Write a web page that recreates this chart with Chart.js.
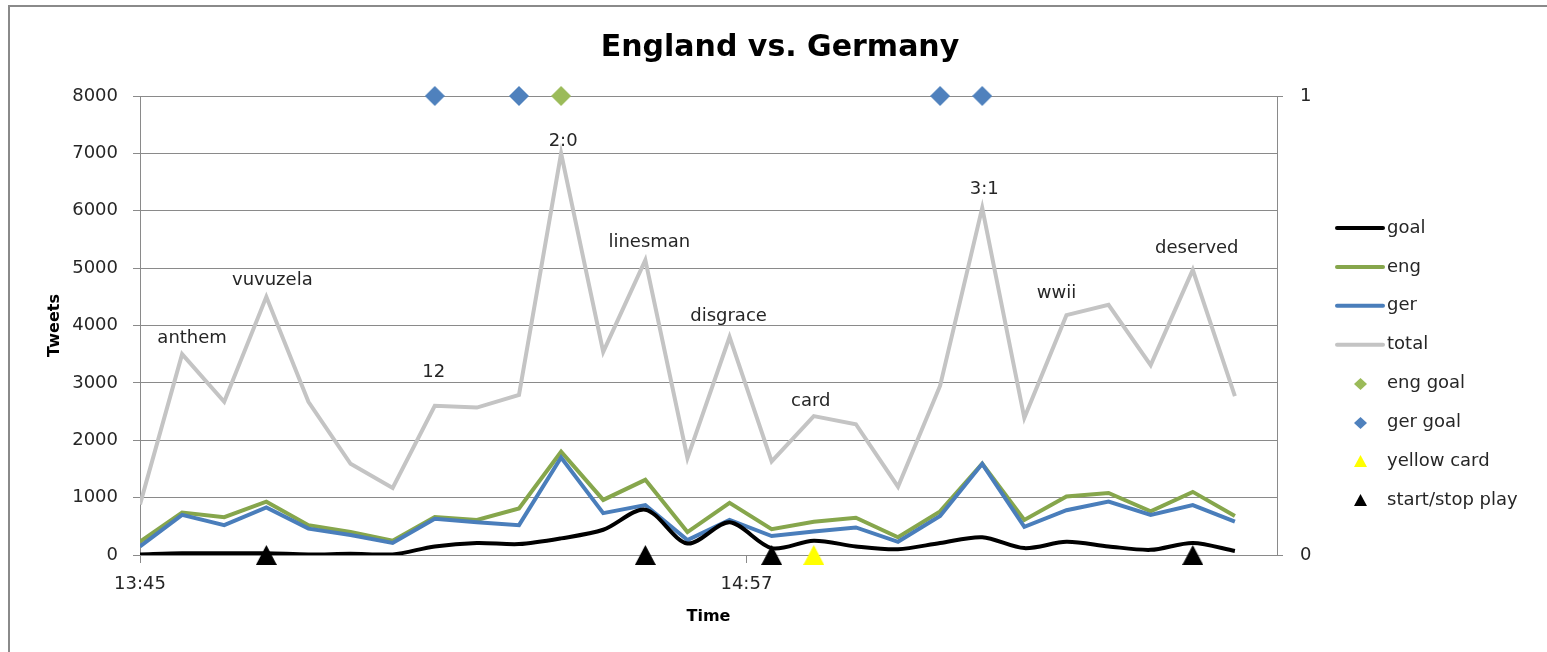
<!DOCTYPE html>
<html><head><meta charset="utf-8">
<script src="https://cdn.jsdelivr.net/npm/chart.js@4.4.1/dist/chart.umd.min.js"></script>
<style>html,body{margin:0;padding:0;background:#fff;overflow:hidden}canvas{display:block}</style>
</head><body>
<canvas id="c" width="1547" height="652"></canvas>
<script>
// ---- data ----
const times = ["13:45","13:50","13:55","14:00","14:05","14:10","14:15","14:20","14:25","14:30","14:35","14:40","14:45","14:50","14:55","15:00","15:05","15:10","15:15","15:20","15:25","15:30","15:35","15:40","15:45","15:50","15:55"];
const goal  = [10, 30, 30, 30, 10, 20, 10, 150, 210, 190, 290, 440, 790, 200, 570, 120, 250, 150, 100, 210, 310, 120, 230, 150, 90, 210, 70];
const eng   = [230, 740, 660, 930, 520, 400, 250, 660, 610, 810, 1800, 960, 1310, 400, 910, 450, 580, 650, 310, 760, 1590, 610, 1020, 1080, 760, 1100, 680];
const ger   = [150, 700, 520, 830, 460, 350, 210, 630, 570, 520, 1700, 730, 870, 260, 610, 330, 410, 480, 230, 680, 1590, 490, 780, 930, 700, 870, 580];
const total = [880, 3500, 2670, 4500, 2670, 1590, 1170, 2600, 2570, 2790, 7000, 3540, 5140, 1690, 3800, 1630, 2420, 2280, 1190, 2950, 6050, 2390, 4180, 4360, 3310, 4970, 2770];
const notes = ["", "anthem", "", "vuvuzela", "", "", "", "12", "", "", "2:0", "", "linesman", "", "disgrace", "", "card", "", "", "", "3:1", "", "wwii", "", "", "deserved", ""];
const engGoalTimes   = ["14:35"];
const gerGoalTimes   = ["14:20", "14:30", "15:20", "15:25"];
const yellowTimes    = ["15:05"];
const startStopTimes = ["14:00", "14:45", "15:00", "15:50"];
const xTickLabels = ["13:45", "14:57"];
const xEnd = "16:00";
const yTicksLeft = [0, 8000, 1000];   // min, max, step
const yTicksRight = [0, 1, 1];

// ---- helpers ----
const toMin = t => { const [h, m] = t.split(":").map(Number); return h * 60 + m; };
const t0 = toMin(times[0]);
const fmt = v => { const a = t0 + Math.round(v); return Math.floor(a / 60) + ":" + String(a % 60).padStart(2, "0"); };
const series = arr => arr.map((v, i) => ({ x: toMin(times[i]) - t0, y: v }));
const marks = (arr, level) => arr.map(t => ({ x: toMin(t) - t0, y: level }));

function marker(shape, w, h, fill) {
  const c = document.createElement("canvas");
  c.width = w; c.height = h;
  const g = c.getContext("2d");
  g.fillStyle = fill;
  g.beginPath();
  if (shape === "diamond") { g.moveTo(w / 2, 0); g.lineTo(w, h / 2); g.lineTo(w / 2, h); g.lineTo(0, h / 2); }
  else { g.moveTo(w / 2, 0); g.lineTo(w, h); g.lineTo(0, h); }
  g.closePath(); g.fill();
  return c;
}

const C = { goal: "#000000", eng: "#86A64C", ger: "#4A7EBB", total: "#C4C4C4",
            engGoal: "#9BBB59", gerGoal: "#4F81BD", yellow: "#FFFF00", stop: "#000000" };

const noteNudge = { "anthem": [10, -16], "vuvuzela": [6, -16], "12": [-1, -33], "2:0": [2, -12],
  "linesman": [4, -18], "disgrace": [-1, -21], "card": [-3, -15], "3:1": [2, -19],
  "wwii": [-10, -22], "deserved": [4, -22] };

Chart.defaults.font.family = "'DejaVu Sans', sans-serif";
Chart.defaults.font.size = 18;
Chart.defaults.color = "#262626";

const lineDs = (label, data, color, order, tension) => ({
  type: "line", label, data: series(data), borderColor: color, backgroundColor: color,
  borderWidth: 4, pointRadius: 0, tension: tension || 0, order, yAxisID: "y", legendKind: "line"
});
const markDs = (label, data, shape, w, h, color) => ({
  type: "line", label, data, showLine: false, yAxisID: "y2", order: 0, clip: false,
  pointStyle: marker(shape, w, h, color), pointRadius: 10, pointHoverRadius: 10,
  legendKind: "mark", legendStyle: marker(shape, 13, 12, color)
});

const datasets = [
  lineDs("goal", goal, C.goal, 2, 0.3),
  lineDs("eng", eng, C.eng, 4),
  lineDs("ger", ger, C.ger, 3),
  lineDs("total", total, C.total, 5),
  markDs("eng goal", marks(engGoalTimes, 1), "diamond", 20, 20, C.engGoal),
  markDs("ger goal", marks(gerGoalTimes, 1), "diamond", 20, 20, C.gerGoal),
  markDs("yellow card", marks(yellowTimes, 0), "triangle", 21, 20, C.yellow),
  markDs("start/stop play", marks(startStopTimes, 0), "triangle", 21, 20, C.stop)
];

const bgPlugin = {
  id: "bg",
  beforeDraw(chart) {
    const g = chart.ctx;
    g.save();
    g.fillStyle = "#fff"; g.fillRect(0, 0, chart.width, chart.height);
    g.strokeStyle = "#8a8a8a"; g.lineWidth = 2;
    g.beginPath(); g.moveTo(9, chart.height + 2); g.lineTo(9, 6); g.lineTo(chart.width + 2, 6); g.stroke();
    g.restore();
  }
};

const notesPlugin = {
  id: "notes",
  afterDatasetsDraw(chart) {
    const meta = chart.getDatasetMeta(3);
    const g = chart.ctx;
    g.save();
    g.font = "18px 'DejaVu Sans', sans-serif";
    g.fillStyle = "#262626"; g.textAlign = "center"; g.textBaseline = "middle";
    notes.forEach((t, i) => {
      if (!t) return;
      const p = meta.data[i];
      const n = noteNudge[t] || [0, -18];
      g.fillText(t, p.x + n[0], p.y + n[1]);
    });
    g.restore();
  }
};

const legendPlugin = {
  id: "customLegend",
  afterDraw(chart) {
    const g = chart.ctx;
    const x0 = 1337, x1 = 1383, tx = 1387, y0 = 228, dy = 38.9;
    g.save();
    g.font = "18px 'DejaVu Sans', sans-serif";
    g.textAlign = "left"; g.textBaseline = "middle"; g.fillStyle = "#262626";
    chart.data.datasets.forEach((ds, i) => {
      const y = y0 + i * dy;
      if (ds.legendKind === "line") {
        g.strokeStyle = ds.borderColor; g.lineWidth = 4; g.lineCap = "round";
        g.beginPath(); g.moveTo(x0, y); g.lineTo(x1, y); g.stroke();
      } else {
        const s = ds.legendStyle;
        g.drawImage(s, Math.round((x0 + x1) / 2 - s.width / 2), Math.round(y - s.height / 2));
      }
      g.fillText(ds.label, tx, y);
    });
    g.restore();
  }
};

new Chart(document.getElementById("c"), {
  type: "line",
  data: { datasets },
  options: {
    responsive: false, animation: false, events: [],
    layout: { padding: { left: 13, right: 0, top: 0, bottom: 0 } },
    plugins: {
      legend: { display: false },
      tooltip: { enabled: false },
      title: { display: true, text: "England vs. Germany", color: "#000",
        font: { size: 30, weight: "bold", lineHeight: 1.2 }, padding: { top: 30, bottom: 30 } }
    },
    scales: {
      x: {
        type: "linear", min: 0, max: toMin(xEnd) - t0,
        afterBuildTicks: s => { s.ticks = xTickLabels.map(t => ({ value: toMin(t) - t0 })); },
        afterFit: s => { s.height = 97; },
        ticks: { callback: v => fmt(v), padding: 11, autoSkip: false, maxRotation: 0 },
        grid: { drawOnChartArea: false, tickLength: 8, color: "#8a8a8a" },
        border: { color: "#8a8a8a" },
        title: { display: true, text: "Time", font: { size: 16, weight: "bold", lineHeight: 1.2 }, color: "#000", padding: { top: 0, bottom: 26 } }
      },
      y: {
        position: "left", min: yTicksLeft[0], max: yTicksLeft[1],
        afterFit: s => { s.width = 127; },
        ticks: { stepSize: yTicksLeft[2], padding: 15, callback: v => String(v) },
        grid: { color: "#8a8a8a", tickLength: 7, lineWidth: 1 },
        border: { color: "#8a8a8a" },
        title: { display: true, text: "Tweets", font: { size: 16, weight: "bold", lineHeight: 1.2 }, color: "#000", padding: { top: 32, bottom: 0 } }
      },
      y2: {
        position: "right", min: yTicksRight[0], max: yTicksRight[1],
        afterFit: s => { s.width = 270; },
        ticks: { stepSize: yTicksRight[2], padding: 17, callback: v => String(v) },
        grid: { drawOnChartArea: false, tickLength: 6, color: "#8a8a8a" },
        border: { color: "#8a8a8a" }
      }
    }
  },
  plugins: [bgPlugin, notesPlugin, legendPlugin]
});
</script>
</body></html>
